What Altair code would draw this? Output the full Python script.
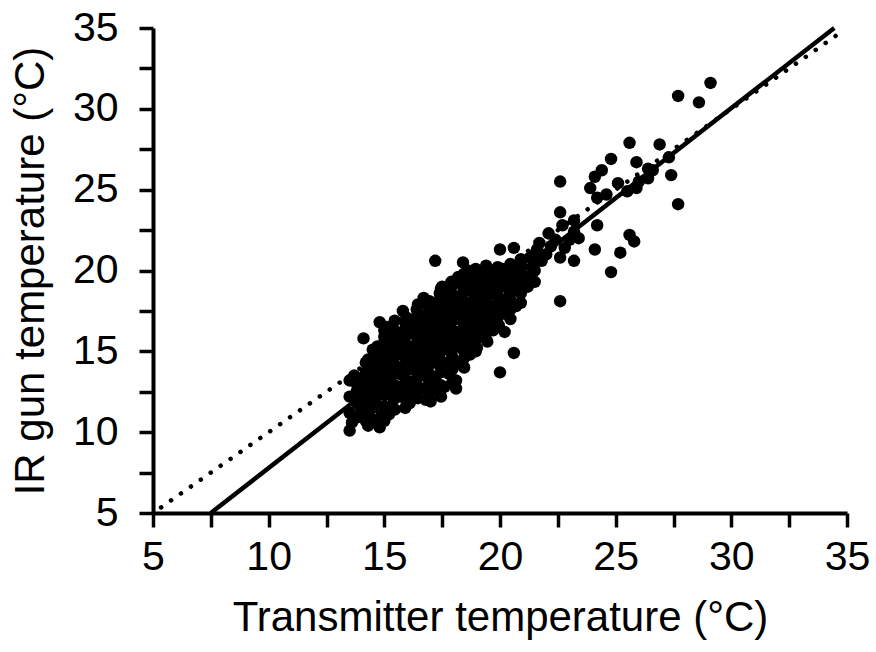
import altair as alt
import pandas as pd

# Transmitter temperature (x) and IR gun temperature (y)
transmitter = [
    13.5, 13.6, 13.5, 13.8, 13.5, 13.9, 13.5, 13.7, 14.0,
    14.3, 14.1, 14.4, 14.2, 14.4, 14.1, 14.3, 14.3, 14.1,
    14.8, 14.9, 14.6, 14.8, 14.7, 14.9, 14.6, 14.8, 14.7, 15.0, 14.8,
    15.2, 15.4, 15.1, 15.3, 15.2, 15.4, 15.1, 15.3, 15.2, 15.1,
    15.9, 15.7, 15.6, 15.8, 15.6, 15.9, 15.7, 15.6, 15.8, 15.9, 15.8,
    16.1, 16.3, 16.2, 16.4, 16.1, 16.3, 16.2, 16.4, 16.1, 16.3, 16.4,
    16.8, 16.6, 16.9, 16.7, 16.6, 16.8, 16.9, 16.7, 16.6, 16.8, 16.9, 16.7,
    17.0, 17.3, 17.2, 17.4, 17.1, 17.3, 17.2, 17.4, 17.1, 17.3, 17.2, 17.4, 17.2, 17.5,
    17.6, 17.8, 17.7, 17.9, 17.6, 17.8, 17.7, 17.9, 17.6, 17.8, 17.7, 17.9,
    18.1, 18.1, 18.2, 18.4, 18.3, 18.1, 18.4, 18.2, 18.3, 18.1, 18.4, 18.2, 18.4,
    18.7, 18.6, 18.9, 18.7, 18.8, 18.6, 18.9, 18.7, 18.8, 18.6,
    19.0, 19.3, 19.1, 19.4, 19.2, 19.3, 19.1, 19.4, 19.2, 19.4,
    19.7, 19.6, 19.8, 19.9, 19.6, 19.8, 19.7, 19.9, 20.0,
    20.2, 20.3, 20.1, 20.4, 20.2, 20.4, 20.1, 20.0, 20.6,
    20.6, 20.7, 20.9, 20.6, 20.8, 20.9, 21.2,
    21.2, 21.4, 21.3, 21.6, 21.8, 22.0, 22.2, 22.4, 22.1, 21.7,
    22.6, 22.8, 23.0, 23.2, 22.7, 23.2, 22.6, 23.2, 22.6, 22.6, 23.4,
    29.1, 27.7, 28.6, 25.6, 26.9, 24.8, 25.9, 26.4, 27.3, 27.4, 27.7, 26.4,
    24.4, 24.1, 23.9, 25.1, 25.5, 24.6, 25.9, 24.2, 24.2, 25.6, 25.8, 24.1,
    25.2, 24.8, 26.0, 26.6,
]
ir_gun = [
    10.1, 10.6, 11.2, 11.8, 12.2, 12.8, 13.2, 13.5, 11.4,
    10.4, 11.0, 11.6, 12.3, 12.9, 13.4, 14.0, 14.5, 15.8,
    10.3, 11.1, 11.9, 12.5, 13.1, 13.7, 14.2, 14.8, 15.3, 15.6, 16.8,
    11.1, 12.0, 12.6, 13.2, 13.8, 14.3, 14.9, 15.4, 16.0, 16.5,
    11.5, 12.2, 12.8, 13.5, 14.0, 14.6, 15.1, 15.7, 16.2, 16.8, 17.5,
    11.8, 12.4, 13.1, 13.7, 14.2, 14.8, 15.3, 15.9, 16.4, 17.0, 17.6,
    12.0, 12.7, 13.3, 13.9, 14.5, 15.0, 15.6, 16.1, 16.7, 17.2, 17.8, 18.3,
    11.9, 12.6, 13.4, 14.1, 14.7, 15.3, 15.8, 16.3, 16.9, 17.4, 18.0, 18.6, 20.6, 19.0,
    12.8, 13.6, 14.3, 14.9, 15.5, 16.0, 16.6, 17.1, 17.7, 18.2, 18.8, 19.3,
    12.7, 13.2, 14.3, 15.1, 15.7, 16.2, 16.8, 17.3, 17.9, 18.4, 19.0, 19.6, 20.5,
    14.8, 15.5, 16.1, 16.6, 17.2, 17.7, 18.3, 18.8, 19.4, 20.0,
    15.2, 15.9, 16.5, 17.1, 17.6, 18.2, 18.7, 19.3, 19.9, 20.3,
    16.3, 16.9, 17.5, 18.0, 18.6, 19.2, 19.7, 20.2, 13.7,
    16.2, 17.3, 17.9, 18.5, 19.1, 19.6, 20.1, 21.3, 21.4,
    14.9, 17.8, 18.6, 19.2, 19.8, 20.4, 19.0,
    19.6, 20.2, 20.8, 21.3, 20.6, 21.0, 21.5, 21.9, 22.3, 21.7,
    20.8, 21.4, 21.9, 22.4, 22.8, 23.1, 23.6, 20.6, 18.1, 25.5, 22.0,
    31.6, 30.8, 30.4, 27.9, 27.8, 26.9, 26.7, 26.3, 27.0, 25.9, 24.1, 25.7,
    26.2, 25.8, 25.1, 25.4, 24.9, 24.7, 25.1, 24.5, 22.8, 22.2, 21.8, 21.3,
    21.1, 19.9, 25.5, 26.2,
]

# Further points in the dense core of the cloud
core_x = [
    13.8, 13.8, 13.8,
    14.2, 14.2, 14.2, 14.2, 14.2, 14.2, 14.2,
    14.5, 14.5, 14.5, 14.5, 14.5, 14.5, 14.5, 14.5,
    15.0, 15.0, 15.0, 15.0, 15.0, 15.0, 15.0, 15.0, 15.0, 15.0,
    15.45, 15.45, 15.45, 15.45, 15.45, 15.45, 15.45, 15.45, 15.45, 15.45,
    15.95, 15.95, 15.95, 15.95, 15.95, 15.95, 15.95, 15.95, 15.95, 15.95,
    16.45, 16.45, 16.45, 16.45, 16.45, 16.45, 16.45, 16.45, 16.45, 16.45, 16.45,
    16.95, 16.95, 16.95, 16.95, 16.95, 16.95, 16.95, 16.95, 16.95, 16.95, 16.95,
    17.45, 17.45, 17.45, 17.45, 17.45, 17.45, 17.45, 17.45, 17.45, 17.45, 17.45, 17.45,
    17.95, 17.95, 17.95, 17.95, 17.95, 17.95, 17.95, 17.95, 17.95, 17.95, 17.95,
    18.45, 18.45, 18.45, 18.45, 18.45, 18.45, 18.45, 18.45, 18.45, 18.45, 18.45,
    18.95, 18.95, 18.95, 18.95, 18.95, 18.95, 18.95, 18.95, 18.95, 18.95,
    19.45, 19.45, 19.45, 19.45, 19.45, 19.45, 19.45, 19.45, 19.45,
    19.95, 19.95, 19.95, 19.95, 19.95, 19.95, 19.95,
    20.45, 20.45, 20.45, 20.45, 20.45, 20.45, 20.45,
    20.9, 20.9, 20.9, 20.9, 20.9,
    21.5, 21.5, 21.5, 21.5,
]
core_y = [
    10.9, 12.5, 13.0,
    10.7, 11.3, 11.9, 12.6, 13.1, 13.7, 14.3,
    10.8, 11.5, 12.1, 12.7, 13.4, 14.0, 14.6, 15.1,
    10.7, 11.6, 12.3, 12.9, 13.5, 14.0, 14.6, 15.1, 15.9, 16.3,
    11.4, 12.3, 12.9, 13.6, 14.1, 14.7, 15.2, 15.8, 16.3, 16.9,
    12.0, 12.5, 13.2, 13.8, 14.3, 14.9, 15.4, 16.0, 16.5, 17.1,
    12.1, 12.8, 13.4, 14.0, 14.5, 15.1, 15.6, 16.2, 16.7, 17.3, 17.9,
    12.4, 13.0, 13.6, 14.2, 14.8, 15.3, 15.9, 16.4, 17.0, 17.5, 18.1,
    12.2, 12.9, 13.7, 14.4, 15.0, 15.6, 16.1, 16.6, 17.2, 17.7, 18.3, 18.9,
    13.1, 13.9, 14.6, 15.2, 15.8, 16.3, 16.9, 17.4, 17.9, 18.5, 19.1,
    14.0, 14.6, 15.4, 16.0, 16.5, 17.0, 17.6, 18.1, 18.7, 19.3, 19.8,
    15.0, 15.7, 16.3, 16.9, 17.4, 17.9, 18.5, 19.1, 19.6, 20.1,
    15.6, 16.2, 16.8, 17.4, 17.9, 18.4, 19.0, 19.6, 20.0,
    16.6, 17.2, 17.8, 18.3, 18.9, 19.4, 19.9,
    17.0, 17.6, 18.2, 18.8, 19.4, 19.9, 20.4,
    18.0, 19.0, 19.5, 20.1, 20.7,
    19.3, 20.0, 20.5, 21.0,
]

# Fitted regression line and 1:1 line end points
fit_x = [7.5, 34.45]
fit_y = [5.0, 35.0]
one_x = [5.35, 34.8]
one_y = [5.35, 34.8]

tick_values = [5, 7.5, 10, 12.5, 15, 17.5, 20, 22.5, 25, 27.5, 30, 32.5, 35]

FONT = "Liberation Sans"

pts = pd.DataFrame({"x": transmitter + core_x, "y": ir_gun + core_y})
fit = pd.DataFrame({"x": fit_x, "y": fit_y})
one = pd.DataFrame({"x": one_x, "y": one_y})

xs = alt.Scale(domain=[5, 35], nice=False, zero=False)
ys = alt.Scale(domain=[5, 35], nice=False, zero=False)

common = dict(
    values=tick_values,
    labelExpr="datum.value % 5 == 0 ? datum.label : ''",
    grid=False,
    domainColor="black",
    domainWidth=4,
    tickColor="black",
    tickWidth=3.5,
    tickSize=14,
    labelFont=FONT,
    labelFontSize=41,
    labelColor="black",
    labelOverlap=False,
    labelFlush=False,
    titleFont=FONT,
    titleFontSize=42,
    titleFontWeight="normal",
    titleColor="black",
)

x_axis = alt.Axis(title="Transmitter temperature (°C)", labelPadding=10, titlePadding=20, **common)
y_axis = alt.Axis(title="IR gun temperature (°C)", labelPadding=21, titlePadding=20, **common)

points = alt.Chart(pts).mark_circle(size=155, color="black", opacity=1).encode(
    x=alt.X("x:Q", scale=xs, axis=x_axis),
    y=alt.Y("y:Q", scale=ys, axis=y_axis),
)

fit_line = alt.Chart(fit).mark_line(color="black", strokeWidth=4.5).encode(
    x=alt.X("x:Q", scale=xs), y=alt.Y("y:Q", scale=ys)
)

one_line = alt.Chart(one).mark_line(
    color="black", strokeWidth=4.5, strokeDash=[0.1, 12], strokeCap="round"
).encode(x=alt.X("x:Q", scale=xs), y=alt.Y("y:Q", scale=ys))

chart = (
    alt.layer(one_line, fit_line, points)
    .properties(
        width=694,
        height=485,
        autosize=alt.AutoSizeParams(type="none"),
        padding={"left": 153, "top": 28, "right": 29, "bottom": 139},
        background="white",
    )
    .configure_view(stroke=None)
)

chart.save("out.html", embed_options={"renderer": "svg", "actions": False})
